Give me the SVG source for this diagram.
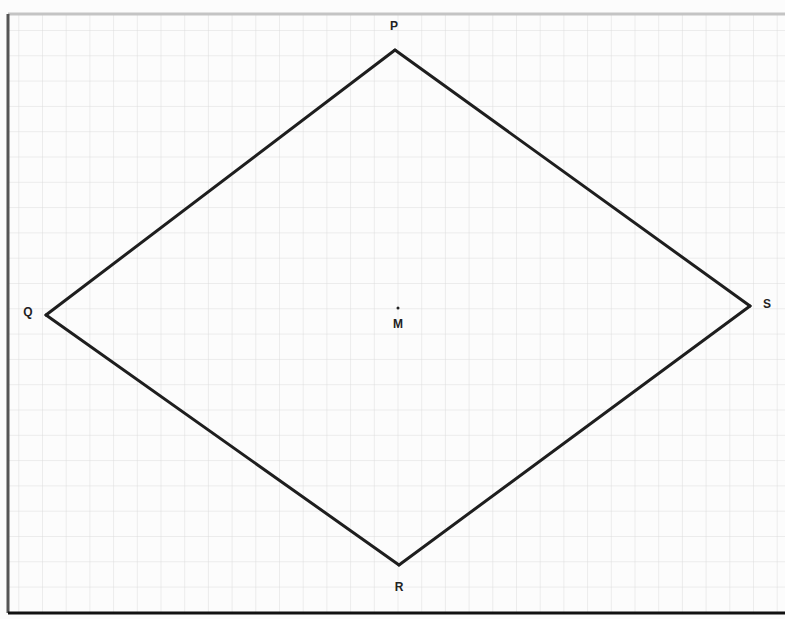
<svg xmlns="http://www.w3.org/2000/svg" width="785" height="619" viewBox="0 0 785 619">
<style>
.lbl{font-family:"Liberation Sans",Arial,sans-serif;font-size:12px;font-weight:bold;fill:#222;text-anchor:middle;dominant-baseline:central}
.edge{stroke:#1e1e1e;stroke-width:3;fill:none;stroke-linecap:round}
</style>
<defs>
<pattern id="grid" patternUnits="userSpaceOnUse" x="42" y="30" width="23.7" height="25.3">
<path d="M0 0V25.3M0 0H23.7" stroke="#dcdcdc" stroke-width="1" fill="none"/>
</pattern>
</defs>
<rect width="785" height="619" fill="#fcfcfc"/>
<rect x="9" y="15" width="776" height="597" fill="url(#grid)"/>
<line x1="8" y1="14" x2="785" y2="14" stroke="#c4c4c4" stroke-width="3"/>
<line x1="8" y1="14" x2="8" y2="613" stroke="#555" stroke-width="3"/>
<line x1="8" y1="613" x2="785" y2="613" stroke="#111" stroke-width="3"/>
<g id="connectors">
<path class="edge" d="M395 50L750 306"/>
<path class="edge" d="M750 306L399 565"/>
<path class="edge" d="M399 565L46 315"/>
<path class="edge" d="M46 315L395 50"/>
</g>
<g id="P"><text class="lbl" x="394" y="26">P</text></g>
<g id="Q"><text class="lbl" x="28" y="312">Q</text></g>
<g id="S"><text class="lbl" x="767" y="304">S</text></g>
<g id="R"><text class="lbl" x="399" y="587">R</text></g>
<g id="M"><circle cx="398" cy="308" r="1.5" fill="#222"/><text class="lbl" x="398" y="324">M</text></g>
</svg>
